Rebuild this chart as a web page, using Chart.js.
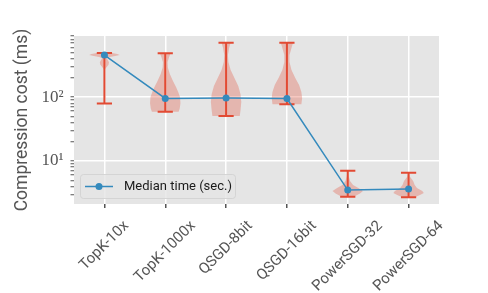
<!DOCTYPE html>
<html>
<head>
<meta charset="utf-8">
<script src="https://cdn.jsdelivr.net/npm/chart.js@4.4.1/dist/chart.umd.min.js"></script>
<style>
  html, body { margin: 0; padding: 0; background: #fff; }
  #wrap { width: 488px; height: 293px; }
</style>
</head>
<body>
<div id="wrap"><canvas id="chart"></canvas></div>
<script>
// Categories (compressors)
const categories = ['TopK-10x', 'TopK-1000x', 'QSGD-8bit', 'QSGD-16bit', 'PowerSGD-32', 'PowerSGD-64'];

// Compression cost (ms): median, min, max
const medianTimes = [453, 95, 97, 95, 3.52, 3.65];
const minTimes = [79.6, 59, 50.5, 77, 2.77, 2.71];
const maxTimes = [487, 482, 705, 705, 7.05, 6.56];

// Violin outlines: values (ms) and relative half-width at each value
const violinValues = [
  [487, 470, 453, 438, 422, 405, 380, 350, 320, 295, 275, 260],
  [482, 420, 350, 290, 230, 180, 145, 120, 100, 80, 66, 59],
  [705, 583, 453, 352, 264, 198, 148.5, 111, 83.5, 62.6, 50.5],
  [705, 583, 453, 352, 264, 198, 154, 120, 96.5, 77],
  [7.05, 5.83, 4.87, 4.22, 3.78, 3.40, 3.10, 2.77],
  [6.56, 5.62, 4.87, 4.22, 3.78, 3.40, 3.16, 2.94, 2.71]
];
const violinWidths = [
  [0.5, 0.85, 1.0, 0.7, 0.35, 0.15, 0.22, 0.3, 0.27, 0.15, 0.05, 0],
  [0.35, 0.25, 0.15, 0.17, 0.3, 0.5, 0.7, 0.85, 0.97, 1.0, 0.95, 0.88],
  [0.3, 0.2, 0.12, 0.15, 0.3, 0.55, 0.8, 0.95, 1.0, 0.95, 0.9],
  [0.4, 0.3, 0.17, 0.17, 0.3, 0.55, 0.8, 0.95, 1.0, 0.95],
  [0.03, 0.06, 0.15, 0.35, 0.7, 1.0, 0.8, 0.4],
  [0.03, 0.1, 0.3, 0.4, 0.55, 0.9, 1.0, 0.75, 0.4]
];

// Y axis ticks
const yMajorTicks = [10, 100];
const yMajorLabels = ['10¹', '10²'];
const yTickValues = [3, 4, 5, 6, 7, 8, 9, 10, 20, 30, 40, 50, 60, 70, 80, 90, 100, 200, 300, 400, 500, 600, 700, 800, 900];

const RED = '#E24A33';
const BLUE = '#348ABD';

// fond gris + violons + barres min/max
const violinPlugin = {
  id: 'violins',
  beforeDraw(chart) {
    const {ctx, chartArea: a} = chart;
    ctx.save();
    ctx.fillStyle = '#E5E5E5';
    ctx.fillRect(a.left, a.top, a.right - a.left, a.bottom - a.top);
    ctx.restore();
  },
  beforeDatasetsDraw(chart) {
    const {ctx, scales: {x, y}} = chart;
    const halfW = (x.getPixelForValue(1) - x.getPixelForValue(0)) * 0.25;
    ctx.save();
    categories.forEach((c, i) => {
      const cx = x.getPixelForValue(i);
      const pts = violinValues[i].map((v, k) => [y.getPixelForValue(v), violinWidths[i][k] * halfW]);
      ctx.beginPath();
      pts.forEach((p, k) => {
        if (k === 0) ctx.moveTo(cx + p[1], p[0]); else ctx.lineTo(cx + p[1], p[0]);
      });
      for (let k = pts.length - 1; k >= 0; k--) ctx.lineTo(cx - pts[k][1], pts[k][0]);
      ctx.closePath();
      ctx.fillStyle = 'rgba(226,74,51,0.3)';
      ctx.fill();
    });
    const capW = halfW * 0.5;
    ctx.strokeStyle = RED;
    ctx.lineWidth = 2;
    categories.forEach((c, i) => {
      const cx = x.getPixelForValue(i);
      const yMin = y.getPixelForValue(minTimes[i]);
      const yMax = y.getPixelForValue(maxTimes[i]);
      ctx.beginPath();
      ctx.moveTo(cx, yMin); ctx.lineTo(cx, yMax);
      ctx.moveTo(cx - capW, yMin); ctx.lineTo(cx + capW, yMin);
      ctx.moveTo(cx - capW, yMax); ctx.lineTo(cx + capW, yMax);
      ctx.stroke();
    });
    ctx.restore();
  },
  afterDatasetsDraw(chart) {
    const {ctx, chartArea: a} = chart;
    const ds = chart.data.datasets[0];
    // legende
    const bx = a.left + 6, by = a.bottom - 30, bw = 155, bh = 24;
    ctx.save();
    ctx.beginPath();
    ctx.roundRect(bx + 0.5, by + 0.5, bw, bh, 3);
    ctx.fillStyle = 'rgba(229,229,229,0.8)';
    ctx.fill();
    ctx.strokeStyle = 'rgba(210,210,210,0.9)';
    ctx.lineWidth = 1;
    ctx.stroke();
    const ly = by + bh / 2 + 0.5;
    ctx.strokeStyle = BLUE;
    ctx.lineWidth = 1.5;
    ctx.beginPath();
    ctx.moveTo(bx + 5, ly); ctx.lineTo(bx + 33, ly);
    ctx.stroke();
    ctx.fillStyle = BLUE;
    ctx.beginPath();
    ctx.arc(bx + 19, ly, 3.5, 0, Math.PI * 2);
    ctx.fill();
    ctx.fillStyle = '#1a1a1a';
    ctx.font = '13px Roboto';
    ctx.textBaseline = 'middle';
    ctx.textAlign = 'left';
    ctx.fillText(ds.label, bx + 44, ly);
    ctx.restore();
  },
  afterDraw(chart) {
    // etiquettes x tournées à 45°, centrées sur le tick
    const {ctx, chartArea: a, scales: {x}} = chart;
    ctx.save();
    ctx.font = '15px Roboto';
    ctx.fillStyle = '#555555';
    ctx.textAlign = 'center';
    ctx.textBaseline = 'middle';
    categories.forEach((c, i) => {
      const px = x.getPixelForValue(i);
      const w = ctx.measureText(c).width;
      const cy = a.bottom + 14 + (w + 16) / (2 * Math.SQRT2);
      ctx.save();
      ctx.translate(px, cy);
      ctx.rotate(-Math.PI / 4);
      ctx.fillText(c, 0, 0);
      ctx.restore();
    });
    ctx.restore();
  }
};

const ctx = document.getElementById('chart').getContext('2d');
const chart = new Chart(ctx, {
  type: 'line',
  data: {
    labels: categories,
    datasets: [{
      label: 'Median time (sec.)',
      data: medianTimes,
      borderColor: BLUE,
      backgroundColor: BLUE,
      borderWidth: 1.5,
      pointRadius: 3.5,
      pointBorderWidth: 0,
      pointBackgroundColor: BLUE,
      tension: 0,
      clip: false
    }]
  },
  options: {
    responsive: true,
    maintainAspectRatio: false,
    animation: false,
    devicePixelRatio: 1,
    layout: { padding: { top: 36, right: 49, bottom: 0, left: 0 } },
    plugins: {
      legend: { display: false },
      tooltip: { enabled: false }
    },
    scales: {
      x: {
        type: 'category',
        offset: true,
        border: { display: false },
        grid: { offset: false, color: '#FFFFFF', lineWidth: 1.5, tickColor: '#555555', tickLength: 4 },
        ticks: { display: false },
        afterFit: (scale) => { scale.height = 89; }
      },
      y: {
        type: 'logarithmic',
        min: 2.13,
        max: 900,
        border: { display: false },
        afterBuildTicks: (scale) => {
          scale.ticks = yTickValues.map(v => ({ value: v }));
        },
        afterFit: (scale) => { scale.width = 74; },
        grid: {
          color: (c) => (c.tick && yMajorTicks.includes(c.tick.value)) ? '#FFFFFF' : 'rgba(0,0,0,0)',
          lineWidth: 1.5,
          tickColor: '#555555',
          tickLength: 3.5,
          tickWidth: 1
        },
        ticks: {
          autoSkip: false,
          padding: 7,
          color: '#555555',
          font: { family: 'Liberation Serif', size: 17 },
          callback: (v) => {
            const k = yMajorTicks.indexOf(v);
            return k >= 0 ? yMajorLabels[k] : '';
          }
        },
        title: {
          display: true,
          text: 'Compression cost (ms)',
          color: '#555555',
          font: { family: 'Roboto', size: 17.5 },
          padding: { top: 12, bottom: 0 }
        }
      }
    }
  },
  plugins: [violinPlugin]
});
</script>
</body>
</html>
